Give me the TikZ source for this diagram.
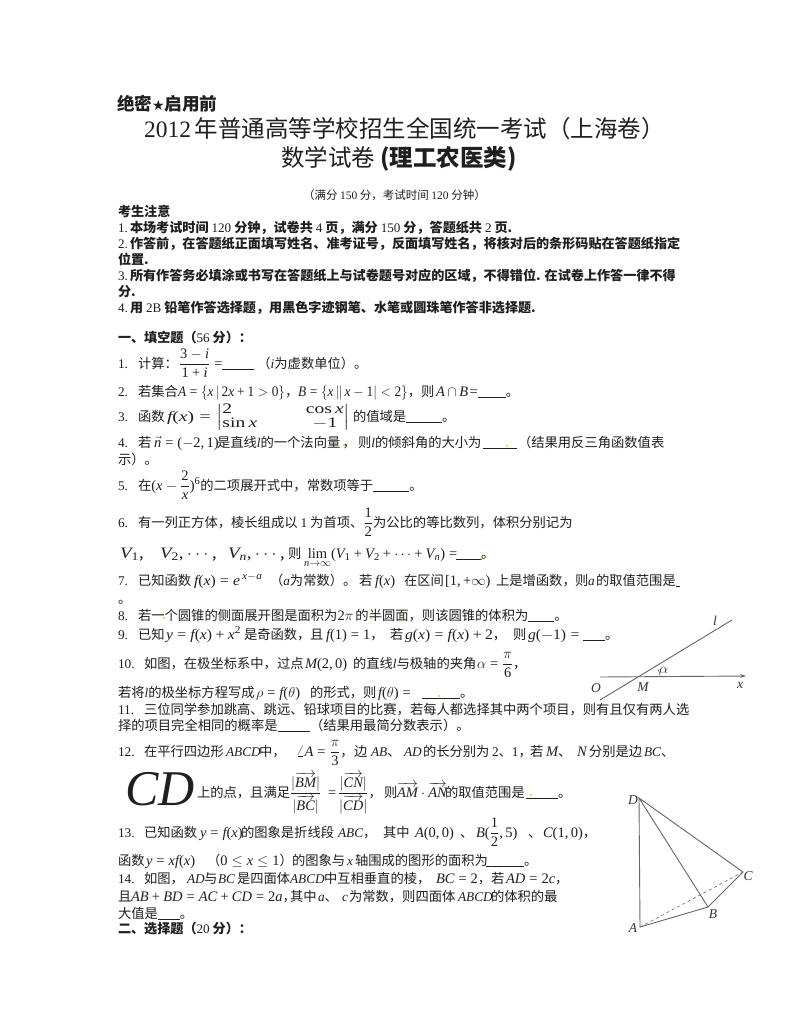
\documentclass[tikz,border=0pt]{standalone}
\usetikzlibrary{arrows.meta}
\usepackage{amsmath,graphicx}
\usepackage[no-math]{fontspec}
\setmainfont{Noto Sans CJK SC}
\newfontfamily\lib[NFSSFamily=libser]{Liberation Serif}
\newfontfamily\djv{DejaVu Sans}
\DeclareSymbolFont{libit}{TU}{libser}{m}{it}
\DeclareSymbolFont{librm}{TU}{libser}{m}{n}
\SetSymbolFont{operators}{normal}{TU}{libser}{m}{n}
\DeclareMathSizes{13.3}{14.5}{10.5}{8}
\newcount\mycc
\mycc=`a \loop \Umathcode\mycc=7 \symlibit \mycc \ifnum\mycc<`z \advance\mycc 1 \repeat
\mycc=`A \loop \Umathcode\mycc=7 \symlibit \mycc \ifnum\mycc<`Z \advance\mycc 1 \repeat
\mycc=`0 \loop \Umathcode\mycc=7 \symlibrm \mycc \ifnum\mycc<`9 \advance\mycc 1 \repeat
\Umathcode`(=4 \symlibrm `(
\Umathcode`)=5 \symlibrm `)
\Umathcode`[=4 \symlibrm `[
\Umathcode`,=6 \symlibrm `,
\Umathcode`+=2 \symlibrm `+
\Umathcode`==3 \symlibrm `=
\newcommand\cm{^^^^ff0c}
\newcommand\lp{^^^^ff08}
\newcommand\rp{^^^^ff09}
\newcommand\cl{^^^^ff1a}
\newcommand\sr[1]{{\lib\mdseries #1}}
\newcommand\si[1]{{\lib\mdseries\itshape #1}}
\newcommand\bk[1]{\rule[-1.6pt]{#1pt}{0.7pt}}
\newcommand\mw[1]{\scalebox{1.08}[1]{$#1$}}
\newcommand\mn[1]{\scalebox{0.92}[1]{$#1$}}
\newcounter{tn}
\newcommand\tl[4]{\stepcounter{tn}\node[txt,font=\fontsize{#3}{#3}\selectfont] (t\arabic{tn}) at (#1,#2) {#4};}
\newcommand\tb[4]{\stepcounter{tn}\node[txt,font=\fontsize{#3}{#3}\selectfont\bfseries] (t\arabic{tn}) at (#1,#2) {#4};}
\newcommand\sg[3]{\tl{#1}{#2}{13.3}{#3}}
\newcommand\dotm[2]{\fill[ydot] (#1,#2) circle (0.8);}
\tikzset{txt/.style={anchor=base west,inner sep=0pt,outer sep=0pt,text=black!88},
 ydot/.style={fill=orange!80!yellow},
 figline/.style={draw=black!60,line width=0.9pt},
 figlab/.style={anchor=center,inner sep=0pt,font=\fontsize{13.5}{13.5}\selectfont\lib\itshape,text=black!80}}
\begin{document}
\begin{tikzpicture}[x=1pt,y=-1pt]
\useasboundingbox[fill=white] (0,0) rectangle (800,1035);
\tb{117}{111}{17.6}{绝密{\djv\fontsize{14}{14}\selectfont ★}启用前}
\tl{144}{138}{23.5}{\sr{2012}\,年普通高等学校招生全国统一考试\lp 上海卷\rp}
\tl{281}{167}{23.5}{数学试卷 \textbf{(理工农医类)}}
\tl{303}{200}{11.5}{\lp 满分 \sr{150} 分\cm 考试时间 \sr{120} 分钟\rp}
\tb{118}{216}{13.1}{考生注意}
\tb{118}{232}{13.1}{\sr{1.}\,本场考试时间 \sr{120} 分钟\cm 试卷共 \sr{4} 页\cm 满分 \sr{150} 分\cm 答题纸共 \sr{2} 页.}
\tb{118}{248}{13.1}{\sr{2.}\,作答前\cm 在答题纸正面填写姓名、准考证号\cm 反面填写姓名\cm 将核对后的条形码贴在答题纸指定}
\tb{118}{264}{13.1}{位置.}
\tb{118}{280}{13.1}{\sr{3.}\,所有作答务必填涂或书写在答题纸上与试卷题号对应的区域\cm 不得错位. 在试卷上作答一律不得}
\tb{118}{296}{13.1}{分.}
\tb{118}{312}{13.1}{\sr{4.}\,用 \sr{2B} 铅笔作答选择题\cm 用黑色字迹钢笔、水笔或圆珠笔作答非选择题.}
\tb{118}{342}{13.1}{一、填空题\lp\sr{56} 分\rp\cl}
% 1
\sg{118}{368}{\sr{1.}}\sg{138}{368}{计算\cl}\sg{179}{368}{$\dfrac{3-i}{1+i}=$\bk{32}\ \lp\si{i}为虚数单位\rp 。}
% 2
\sg{118}{396}{\sr{2.}}\sg{138}{396}{若集合}\sg{178}{396}{\mn{A=\{x\,|\,2x+1>0\}}\cm}\sg{298}{396}{\mn{B=\{x\,\|\,x-1|<2\}}\cm}\sg{421}{396}{则}\sg{436}{396}{$A\mskip-1mu\cap\mskip-1mu B\mskip-3mu=$\bk{28}。}
% 3
\sg{118}{421}{\sr{3.}}\sg{138}{421}{函数}\sg{167}{421}{\scalebox{1.35}[1]{\arraycolsep=18pt$f(x)=\left|\begin{array}{@{}lc@{}}2&\cos x\\ \sin x&-1\end{array}\right|$}}\sg{353}{421}{的值域是\bk{36}。}
% 4
\sg{118}{447}{\sr{4.}}\sg{138}{447}{若}\sg{154}{447}{$\vec{n}=(-2,1)$}\sg{217}{447}{是直线\si{l}的一个法向量\,\cm\,则\si{l}的倾斜角的大小为}\sg{483}{447}{\bk{34}}\sg{518}{447}{\lp 结果用反三角函数值表}
\sg{118}{464}{示\rp 。}
% 5
\sg{118}{490}{\sr{5.}}\sg{138}{490}{在$(x-\dfrac{2}{x})^6$的二项展开式中\cm 常数项等于\bk{36}。}
% 6
\sg{118}{527}{\sr{6.}}\sg{138}{527}{有一列正方体\cm 棱长组成以 \sr{1} 为首项、$\dfrac{1}{2}$为公比的等比数列\cm 体积分别记为}
\sg{120}{558}{\scalebox{1.3}[1.1]{$V_1$,}}\sg{160}{558}{\scalebox{1.3}[1.1]{$V_2,\cdots$,}}\sg{228}{558}{\scalebox{1.3}[1.1]{$V_n,\cdots$,}}\sg{288}{558}{则}\sg{304}{558}{$\lim\limits_{n\to\infty}(V_1+V_2+\cdots+V_n)=$}\sg{456}{558}{\bk{26}}\sg{481}{558}{。}
% 7
\sg{118}{585}{\sr{7.}}\sg{138}{585}{已知函数}\sg{194}{585}{\mw{f(x)=e^{\,x-a}}}\sg{270}{585}{\lp\si{a}为常数\rp 。}\sg{359}{585}{若}\sg{375}{585}{$f(x)$}\sg{404}{585}{在区间}\sg{445}{585}{$[1,+\infty)$}\sg{496}{585}{上是增函数\cm}\sg{575}{585}{则}\sg{588}{585}{\si{a}}\sg{596}{585}{的取值范围是\bk{4}}
\sg{118}{603}{。}
% 8
\sg{118}{620}{\sr{8.}}\sg{138}{620}{若一个圆锥的侧面展开图是面积为$2\pi$\,的半圆面\cm 则该圆锥的体积为\bk{26}。}
% 9
\sg{118}{639}{\sr{9.}}\sg{138}{639}{已知}\sg{166}{639}{\mw{y=f(x)+x^2}}\sg{244}{639}{是奇函数\cm}\sg{310}{639}{且}\sg{326}{639}{$f(1)=1$\cm}\sg{390}{639}{若}\sg{405}{639}{\mw{g(x)=f(x)+2}\cm}\sg{513}{639}{则}\sg{528}{639}{\mw{g(-1)=}}\sg{583}{639}{\bk{22}。}
% 10
\sg{118}{668}{\sr{10.}}\sg{144}{668}{如图\cm 在极坐标系中\cm 过点}\sg{305}{668}{$M(2,0)$}\sg{353}{668}{的直线\si{l}与极轴的夹角}\sg{477}{668}{$\alpha=\dfrac{\pi}{6}$\cm}
\sg{118}{697}{若将\si{l}的极坐标方程写成}\sg{256}{697}{$\rho=f(\theta)$}\sg{310}{697}{的形式\cm 则}\sg{378}{697}{$f(\theta)=$}\sg{422}{697}{\bk{38}。}
% 11
\sg{118}{714}{\sr{11.}}\sg{144}{714}{三位同学参加跳高、跳远、铅球项目的比赛\cm 若每人都选择其中两个项目\cm 则有且仅有两人选}
\sg{118}{730}{择的项目完全相同的概率是\bk{32}}\sg{310}{730}{\lp 结果用最简分数表示\rp 。}
% 12
\sg{118}{756}{\sr{12.}}\sg{144}{756}{在平行四边形}\sg{226}{756}{\si{ABCD}}\sg{259}{756}{中\cm}\sg{296}{756}{$\angle A=\dfrac{\pi}{3}$\cm}\sg{354}{756}{边}\sg{371}{756}{\si{AB}、}\sg{404}{756}{\si{AD}}\sg{423}{756}{的长分别为}\sg{492}{756}{\sr{2}、\sr{1}\cm}\sg{530}{756}{若}\sg{546}{756}{$M$、}\sg{577}{756}{$N$}\sg{589}{756}{分别是边}\sg{644}{756}{\si{BC}、}
% CD
\tl{125}{805}{50}{\si{CD}}
\sg{197}{797}{上的点\cm 且满足}\sg{290}{797}{$\dfrac{|\overrightarrow{BM}|}{|\overrightarrow{BC}|}$}\sg{328}{797}{$=$}\sg{338}{797}{$\dfrac{|\overrightarrow{CN}|}{|\overrightarrow{CD}|}$\cm}\sg{384}{797}{则}\sg{397}{797}{$\overrightarrow{AM}\cdot\overrightarrow{AN}$}\sg{445}{797}{的取值范围是}\sg{526}{797}{\bk{32}。}
% 13
\sg{118}{837}{\sr{13.}}\sg{144}{837}{已知函数}\sg{200}{837}{$y=f(x)$}\sg{241}{837}{的图象是折线段}\sg{338}{837}{\si{ABC}\cm}\sg{383}{837}{其中}\sg{415}{837}{$A(0,0)$}\sg{460}{837}{、}\sg{476}{837}{$B(\dfrac{1}{2},5)$}\sg{528}{837}{、}\sg{543}{837}{$C(1,0)$\cm}
\sg{118}{865}{函数}\sg{146}{865}{$y=xf(x)$}\sg{207}{865}{\lp$0\le x\le 1$\rp}\sg{292}{865}{的图象与}\sg{347}{865}{\si{x}}\sg{355}{865}{轴围成的图形的面积为}\sg{486}{865}{\bk{38}。}
% 14
\sg{118}{883}{\sr{14.}}\sg{144}{883}{如图\cm}\sg{187}{883}{\si{AD}}\sg{204}{883}{与}\sg{218}{883}{\si{BC}}\sg{237}{883}{是四面体}\sg{290}{883}{\si{ABCD}}\sg{324}{883}{中互相垂直的棱\cm}\sg{436}{883}{$BC=2$\cm}\sg{491}{883}{若}\sg{506}{883}{$AD=2c$\cm}
\sg{118}{901}{且}\sg{131}{901}{$AB+BD=AC+CD=2a$\cm}\sg{290}{901}{其中}\sg{318}{901}{\si{a}、}\sg{342}{901}{\si{c}}\sg{349}{901}{为常数\cm 则四面体}\sg{458}{901}{\si{ABCD}}\sg{491}{901}{的体积的最}
\sg{118}{918}{大值是\bk{22}。}
\tb{118}{933}{13.1}{二、选择题\lp\sr{20} 分\rp\cl}
% small marks
\dotm{344}{445}\dotm{507}{446}\dotm{481}{559}\dotm{531}{795}\dotm{224}{796}\dotm{164}{618}\dotm{401}{618}\dotm{371}{618}\dotm{439}{696}
% polar figure
\coordinate (ls) at (600,700); \coordinate (le) at (732,620);
\coordinate (xs) at (600,677); \coordinate (xe) at (746,676);
\draw[figline] (ls) -- (le);
\draw[figline,-{Stealth[length=6pt,width=4pt]}] (xs) -- (xe);
\draw[figline,line width=0.6pt] (660,676.5) arc (0:-31:14);
\node[figlab] (fl) at (715,621) {l};
\node[figlab] (fo) at (596,688) {O};
\node[figlab] (fm) at (643,687) {M};
\node[figlab] (fa) at (664,670) {$\alpha$};
\node[figlab] (fx) at (740,685) {x};
% tetrahedron
\coordinate (D) at (639,798); \coordinate (A) at (640,927);
\coordinate (B) at (708,907); \coordinate (C) at (743,872);
\draw[figline] (D) -- (A) -- (B) -- (C) -- (D) -- (B);
\draw[figline,dashed,line width=0.6pt] (A) -- (C);
\node[figlab] (ld) at (633,800) {D};
\node[figlab] (la) at (633,928) {A};
\node[figlab] (lb) at (713,914) {B};
\node[figlab] (lc) at (748,876) {C};
\end{tikzpicture}
\end{document}
